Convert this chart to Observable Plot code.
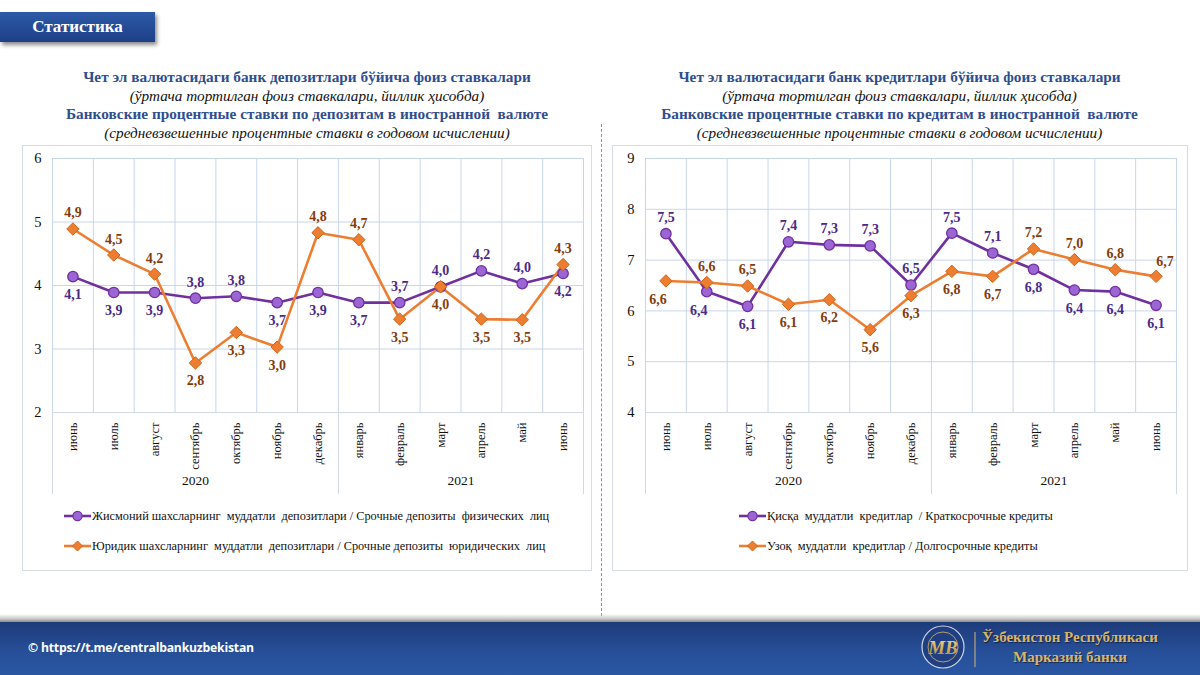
<!DOCTYPE html>
<html>
<head>
<meta charset="utf-8">
<script src="https://cdn.jsdelivr.net/npm/d3@7"></script>
<script src="https://cdn.jsdelivr.net/npm/@observablehq/plot@0.6"></script>
<style>
  html, body { margin: 0; padding: 0; background: #fff; }
  #page { position: relative; width: 1200px; height: 675px; overflow: hidden; background: #fff; font-family: "Liberation Serif", serif; }
  .abs { position: absolute; }
  .badge { left: 0; top: 12px; width: 155px; height: 30px; background: linear-gradient(180deg, #2d5aa8 0%, #1e3f86 100%); box-shadow: 2px 3px 4px rgba(0,0,0,0.45); color: #fff; font-weight: bold; font-size: 17px; line-height: 30px; text-align: center; }
  .titles { top: 68px; text-align: center; line-height: 18.5px; }
  .t-b { color: #2f4e8e; font-weight: bold; font-size: 15.3px; }
  .t-i { color: #111; font-style: italic; font-size: 15.2px; }
  .box { border: 1px solid #d6dce4; }
  .legend { font-size: 12.3px; color: #111; white-space: pre; }
  .legend .item { display: flex; align-items: center; height: 30px; }
  .legend svg { margin-right: 1px; }
  .footer { left: 0; top: 622px; width: 1200px; height: 53px; background: linear-gradient(180deg, #1d3b7a 0%, #27509a 60%, #2a56a2 100%); }
  .shadow { left: 0; top: 614px; width: 1200px; height: 8px; background: linear-gradient(180deg, rgba(255,255,255,0) 0%, #c9c9c9 60%, #8a8a8a 100%); }
  .url { left: 28px; top: 639px; color: #fff; font-family: "Open Sans", sans-serif; font-weight: bold; font-size: 12.2px; letter-spacing: -0.2px; }
  .bank { left: 975px; top: 627px; width: 190px; text-align: center; color: #d8b56a; font-weight: bold; font-size: 15px; line-height: 20px; text-shadow: 1px 1px 1px rgba(0,0,0,0.5); }
</style>
</head>
<body>
<div id="page">
  <div class="abs badge">Статистика</div>

  <div class="abs titles" style="left:22px;width:570px;">
    <div class="t-b">Чет эл валютасидаги банк депозитлари бўйича фоиз ставкалари</div>
    <div class="t-i">(ўртача тортилган фоиз ставкалари, йиллик ҳисобда)</div>
    <div class="t-b">Банковские процентные ставки по депозитам в иностранной&nbsp; валюте</div>
    <div class="t-i">(средневзвешенные процентные ставки в годовом исчислении)</div>
  </div>
  <div class="abs titles" style="left:612px;width:575px;">
    <div class="t-b">Чет эл валютасидаги банк кредитлари бўйича фоиз ставкалари</div>
    <div class="t-i">(ўртача тортилган фоиз ставкалари, йиллик ҳисобда)</div>
    <div class="t-b">Банковские процентные ставки по кредитам в иностранной&nbsp; валюте</div>
    <div class="t-i">(средневзвешенные процентные ставки в годовом исчислении)</div>
  </div>

  <div class="abs box" style="left:22px;top:145px;width:568px;height:424px;"></div>
  <div class="abs box" style="left:612px;top:145px;width:574px;height:424px;"></div>
  <div class="abs" style="left:601px;top:124px;height:492px;border-left:1.5px dashed #6f96d3;"></div>

  <div class="abs" id="chartL" style="left:22px;top:145px;"></div>
  <div class="abs" id="chartR" style="left:612px;top:145px;"></div>

  <div class="abs legend" id="legL" style="left:64px;top:501px;"></div>
  <div class="abs legend" id="legR" style="left:739px;top:501px;"></div>

  <div class="abs shadow"></div>
  <div class="abs footer"></div>
  <div class="abs url">© https://t.me/centralbankuzbekistan</div>
  <svg class="abs" style="left:918px;top:623px;" width="62" height="50">
    <defs>
      <linearGradient id="gold" x1="0" y1="0" x2="0" y2="1">
        <stop offset="0" stop-color="#f3d98f"/><stop offset="1" stop-color="#b98a2e"/>
      </linearGradient>
    </defs>
    <circle cx="25" cy="24" r="21" fill="#1f3f82" stroke="#cfd6e4" stroke-width="1.2"/>
    <circle cx="25" cy="24" r="15" fill="none" stroke="#d8b56a" stroke-width="0.8"/>
    <text x="25" y="31" text-anchor="middle" font-family="Liberation Serif" font-style="italic" font-weight="bold" font-size="19" fill="url(#gold)">MB</text>
    <line x1="57" y1="9" x2="57" y2="44" stroke="#d8b56a" stroke-width="1"/>
  </svg>
  <div class="abs bank">Ўзбекистон Республикаси<br>Марказий банки</div>
</div>

<script>
// ---- Data ----
const months = ["июнь","июль","август","сентябрь","октябрь","ноябрь","декабрь","январь","февраль","март","апрель","май","июнь"];
const years = ["2020", "2021"];
const yearMonthCount = [7, 6];

// Deposits (left)
const depPhysical = [4.14, 3.89, 3.89, 3.80, 3.83, 3.73, 3.89, 3.73, 3.73, 3.98, 4.23, 4.03, 4.19];
const depLegal    = [4.89, 4.48, 4.18, 2.78, 3.26, 3.03, 4.83, 4.72, 3.47, 3.98, 3.47, 3.46, 4.33];
// Loans (right)
const loanShort = [7.52, 6.38, 6.09, 7.36, 7.30, 7.28, 6.51, 7.53, 7.14, 6.82, 6.41, 6.38, 6.11];
const loanLong  = [6.59, 6.56, 6.49, 6.13, 6.22, 5.63, 6.30, 6.78, 6.68, 7.22, 7.01, 6.81, 6.68];

const depTicks = [2, 3, 4, 5, 6];
const loanTicks = [4, 5, 6, 7, 8, 9];

const legendDep = ["Жисмоний шахсларнинг  муддатли  депозитлари / Срочные депозиты  физических  лиц",
                   "Юридик шахсларнинг  муддатли  депозитлари / Срочные депозиты  юридических  лиц"];
const legendLoan = ["Қисқа  муддатли  кредитлар  / Краткосрочные кредиты",
                    "Узоқ  муддатли  кредитлар / Долгосрочные кредиты"];

// label placement (annotation styling)
const placeDepPhysical = ["b","b","b","a","a","b","b","b","a","a","a","a","b"];
const placeDepLegal    = ["a","a","a","b","b","b","a","a","b","b","b","b","a"];
const placeLoanShort   = ["a","bl","b","a","a","a","a","a","a","b","b","b","b"];
const placeLoanLong    = ["bl","a","a","b","b","b","b","b","b","a","a","a","ar"];

// ---- Styles ----
const PURPLE = "#7030A0", PURPLE_FILL = "#9b66d4", PURPLE_TXT = "#4b2a86";
const ORANGE = "#ED7D31", ORANGE_STROKE = "#d0661c", ORANGE_TXT = "#843C0C";
const GRID = "#c8d6ea";
const offsets = {a: [0, -16], b: [0, 18], bl: [-8, 19], ar: [9, -15]};
const fmt = v => v.toFixed(1).replace(".", ",");

function labelMarks(data, color) {
  return Object.keys(offsets).map(k => Plot.text(data, {
    filter: d => d.p === k, x: "i", y: "v", text: d => fmt(d.v),
    dx: offsets[k][0], dy: offsets[k][1], fill: color,
    fontWeight: "bold", fontSize: 14, fontFamily: "Liberation Serif"
  }));
}

function makeChart(s1, s2, p1, p2, ticks, width, mL, mR) {
  const d1 = s1.map((v, i) => ({i, v, p: p1[i]}));
  const d2 = s2.map((v, i) => ({i, v, p: p2[i]}));
  const yearPos = [];
  let start = 0;
  years.forEach((y, k) => { yearPos.push({x: start + (yearMonthCount[k] - 1) / 2, y}); start += yearMonthCount[k]; });
  const seps = [-0.5];
  start = 0;
  yearMonthCount.forEach(c => { start += c; seps.push(start - 0.5); });
  const H = 355, mT = 13, mB = 88;
  return Plot.plot({
    width, height: H, marginLeft: mL, marginRight: mR, marginTop: mT, marginBottom: mB,
    style: {fontFamily: "Liberation Serif", fontSize: "13px", color: "#111", background: "transparent", overflow: "visible"},
    x: {type: "linear", domain: [-0.5, months.length - 0.5]},
    y: {domain: [ticks[0], ticks[ticks.length - 1]]},
    marks: [
      Plot.gridX(d3.range(-0.5, months.length, 1), {stroke: GRID, strokeOpacity: 1, strokeWidth: 1}),
      Plot.gridY(ticks, {stroke: GRID, strokeOpacity: 1, strokeWidth: 1}),
      Plot.ruleY([ticks[0]], {stroke: "#d3d9e0", strokeWidth: 1.2}),
      Plot.ruleX(seps, {stroke: "#d3d9e0", strokeWidth: 1, insetTop: H - mT - mB, insetBottom: -82}),
      Plot.axisY(ticks, {tickSize: 0, tickPadding: 11, fontSize: 14.5, tickFormat: d => String(d), label: null}),
      Plot.axisX(d3.range(months.length), {tickSize: 0, tickPadding: 10, tickRotate: -90, tickFormat: i => months[i], fontSize: 12.5, label: null}),
      Plot.text(yearPos, {x: "x", text: "y", frameAnchor: "bottom", dy: 72, fontSize: 13.5, fill: "#111"}),
      Plot.line(d1, {x: "i", y: "v", stroke: PURPLE, strokeWidth: 2.6}),
      Plot.line(d2, {x: "i", y: "v", stroke: ORANGE, strokeWidth: 2.6}),
      Plot.dot(d1, {x: "i", y: "v", symbol: "circle", r: 5.2, fill: PURPLE_FILL, stroke: PURPLE, strokeWidth: 1.3}),
      Plot.dot(d2, {x: "i", y: "v", symbol: "diamond2", r: 5.6, fill: ORANGE, stroke: ORANGE_STROKE, strokeWidth: 1}),
      ...labelMarks(d1, PURPLE_TXT),
      ...labelMarks(d2, ORANGE_TXT)
    ]
  });
}

document.getElementById("chartL").appendChild(
  makeChart(depPhysical, depLegal, placeDepPhysical, placeDepLegal, depTicks, 569, 30, 8));
document.getElementById("chartR").appendChild(
  makeChart(loanShort, loanLong, placeLoanShort, placeLoanLong, loanTicks, 575, 33, 11));

function swatch(kind) {
  const ns = "http://www.w3.org/2000/svg";
  const svg = document.createElementNS(ns, "svg");
  svg.setAttribute("width", 27); svg.setAttribute("height", 12);
  const line = document.createElementNS(ns, "line");
  line.setAttribute("x1", 0); line.setAttribute("x2", 27); line.setAttribute("y1", 6); line.setAttribute("y2", 6);
  line.setAttribute("stroke", kind === 0 ? PURPLE : ORANGE); line.setAttribute("stroke-width", 2.6);
  svg.appendChild(line);
  if (kind === 0) {
    const c = document.createElementNS(ns, "circle");
    c.setAttribute("cx", 13.5); c.setAttribute("cy", 6); c.setAttribute("r", 4.6);
    c.setAttribute("fill", PURPLE_FILL); c.setAttribute("stroke", PURPLE); c.setAttribute("stroke-width", 1.2);
    svg.appendChild(c);
  } else {
    const p = document.createElementNS(ns, "path");
    p.setAttribute("d", "M13.5,1 L18.5,6 L13.5,11 L8.5,6 Z");
    p.setAttribute("fill", ORANGE); p.setAttribute("stroke", ORANGE_STROKE);
    svg.appendChild(p);
  }
  return svg;
}
function legend(id, labels) {
  const el = document.getElementById(id);
  labels.forEach((t, k) => {
    const row = document.createElement("div"); row.className = "item";
    row.appendChild(swatch(k));
    const s = document.createElement("span"); s.textContent = t;
    row.appendChild(s);
    el.appendChild(row);
  });
}
legend("legL", legendDep);
legend("legR", legendLoan);
</script>
</body>
</html>
